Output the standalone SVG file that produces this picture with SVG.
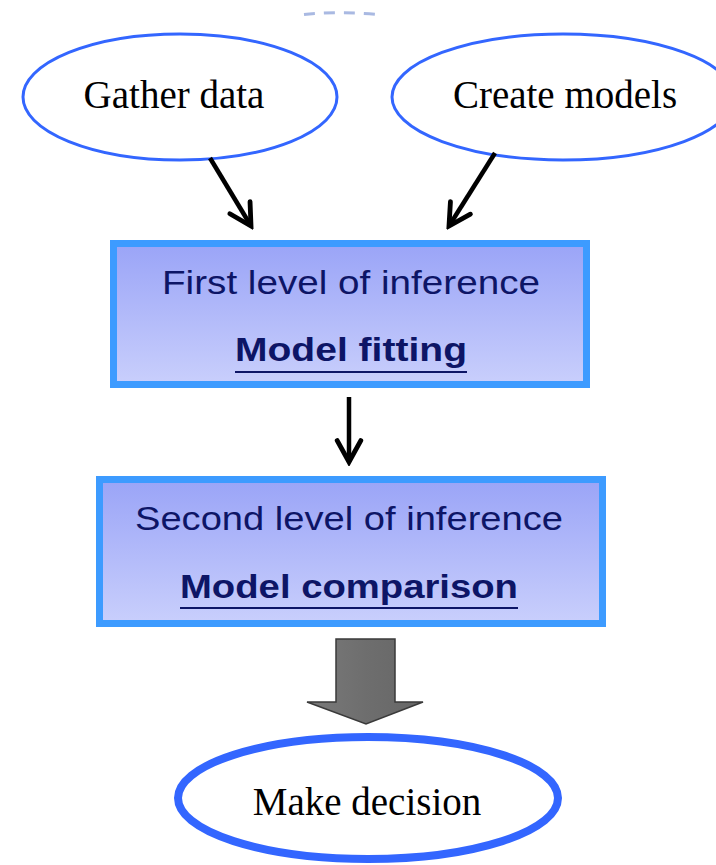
<svg xmlns="http://www.w3.org/2000/svg" width="716" height="865" viewBox="0 0 716 865">
<defs>
<linearGradient id="boxfill" x1="0" y1="0" x2="0" y2="1">
<stop offset="0" stop-color="#9AA4F7"/>
<stop offset="1" stop-color="#C9CFFC"/>
</linearGradient>
<linearGradient id="grayfill" x1="0" y1="0" x2="1" y2="0">
<stop offset="0" stop-color="#7A7A7A"/>
<stop offset="0.5" stop-color="#6E6E6E"/>
<stop offset="1" stop-color="#666666"/>
</linearGradient>
<marker id="vhead" markerUnits="userSpaceOnUse" markerWidth="30" markerHeight="30" viewBox="-24 -14 28 28" refX="0" refY="0" orient="auto">
<path d="M -20 -11 L 0 0 L -20 11" fill="none" stroke="#000" stroke-width="4.5" stroke-linejoin="miter" stroke-linecap="round"/>
</marker>
</defs>
<style>
.oval{fill:#fff;stroke:#3366FF;stroke-width:3}
.times{font-family:"Liberation Serif","Times New Roman",serif;font-size:39px;fill:#000;text-anchor:middle}
.box{fill:url(#boxfill);stroke:#3D9BFF;stroke-width:7}
.lvl{font-family:"Liberation Sans",Arial,sans-serif;font-size:33px;fill:#0D1566;text-anchor:middle}
.bold{font-weight:bold}
.ul{stroke:#0D1566;stroke-width:2}
.conn{stroke:#000;stroke-width:4.5;fill:none;marker-end:url(#vhead)}
</style>
<rect width="716" height="865" fill="#fff"/>
<path d="M 304 14.5 Q 340 11 378 14.5" fill="none" stroke="#A9B9E2" stroke-width="3" stroke-dasharray="11 9"/>
<g id="gather">
<ellipse class="oval" cx="180" cy="97" rx="157" ry="63"/>
<text class="times" x="174" y="108">Gather data</text>
</g>
<g id="create">
<ellipse class="oval" cx="563" cy="97" rx="171" ry="63"/>
<text class="times" x="565" y="108">Create models</text>
</g>
<g id="first">
<rect class="box" x="113.5" y="243.5" width="473" height="141"/>
<text class="lvl" x="351" y="294" textLength="378" lengthAdjust="spacingAndGlyphs">First level of inference</text>
<text class="lvl bold" x="351" y="361" textLength="232" lengthAdjust="spacingAndGlyphs">Model fitting</text>
<line class="ul" x1="235" y1="372" x2="467" y2="372"/>
</g>
<g id="second">
<rect class="box" x="99.5" y="479.5" width="503" height="144"/>
<text class="lvl" x="349" y="530" textLength="428" lengthAdjust="spacingAndGlyphs">Second level of inference</text>
<text class="lvl bold" x="349" y="598" textLength="338" lengthAdjust="spacingAndGlyphs">Model comparison</text>
<line class="ul" x1="180" y1="608" x2="518" y2="608"/>
</g>
<g id="decision">
<ellipse cx="368" cy="798" rx="190" ry="61" fill="#fff" stroke="#3366FF" stroke-width="8"/>
<text class="times" x="367" y="815">Make decision</text>
</g>
<g id="connectors">
<line class="conn" x1="210" y1="158" x2="251" y2="226"/>
<line class="conn" x1="495" y1="153" x2="449" y2="226"/>
<line class="conn" x1="349" y1="397" x2="349" y2="462"/>
<path d="M 336 639 L 395 639 L 395 702 L 423 702 L 366 724 L 307 702 L 336 702 Z" fill="url(#grayfill)" stroke="#3A3A3A" stroke-width="1.5" stroke-linejoin="miter"/>
</g>
</svg>
